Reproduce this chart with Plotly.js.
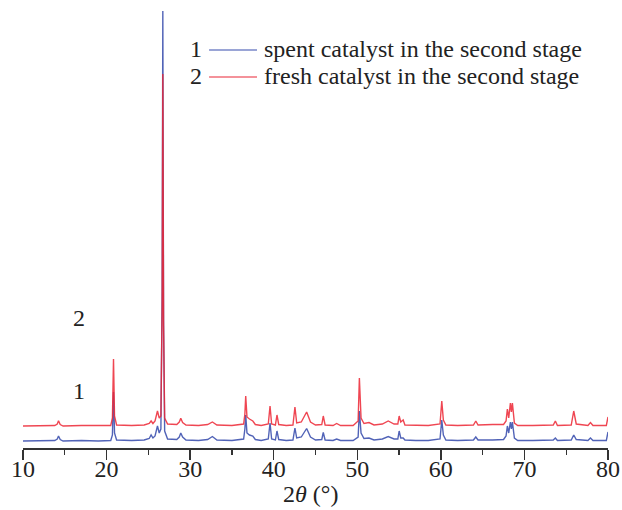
<!DOCTYPE html>
<html>
<head>
<meta charset="utf-8">
<script src="https://cdn.plot.ly/plotly-3.0.1.min.js"></script>
<style>html,body{margin:0;padding:0;background:#fff;}#chart{width:622px;height:510px;}</style>
</head>
<body>
<div id="chart"></div>
<script>
// 2θ positions (degrees)
const twoTheta = [10.0,13.8,14.1,14.25,14.45,14.8,17,19,20.5,20.7,20.83,20.95,21.2,23,24.5,25.1,25.33,25.55,25.8,26.09,26.3,26.5,26.65,26.73,26.82,26.95,27.3,28.4,28.7,28.88,29.1,29.5,31,32.1,32.66,33.2,35,36.4,36.55,36.65,36.8,37.1,37.5,37.8,38.5,39.35,39.56,39.75,40.2,40.39,40.6,41.5,42.3,42.54,42.75,43.3,43.94,44.4,45,45.75,45.93,46.15,47.1,47.53,48,49.5,50.1,50.25,50.45,50.8,51.4,52,53,53.7,54.4,54.85,55.01,55.2,55.49,55.7,57,58.5,59.9,60.11,60.3,60.6,62,63.9,64.18,64.45,66.2,67.5,67.8,67.96,68.12,68.32,68.44,68.56,68.8,69.2,71,73.45,73.7,73.95,75.6,75.9,76.2,77.6,77.9,78.2,79.8,80.0];
// intensity above baseline, curve 1 (spent catalyst)
const spent = [0,0.5,2,5,1.5,0,0.5,0,0.5,6,49,8,1,0.5,1,2.5,6,3,5,15,8,12,150,430,120,10,2,1.5,4,8,4,1,0.5,1.5,4.5,1,0.5,2,12,26,8,6,5,1.5,0.5,2,18,2,1,10,1.5,0.5,1,13,3,4,12.5,4,1,1.5,8.5,1,0.5,2,0.5,0.5,4,30,8,2.5,3,1,2,4.5,2,2,10,3,3,1,0.5,0.5,2,21,6,1,0.5,1,4,1,1,1.5,5,15,8,19,12,19,3,0.5,0.5,1,3,0.5,1,6,1.5,0.5,3,0.5,0.5,9];
// intensity above baseline, curve 2 (fresh catalyst)
const fresh = [0,0.5,2,5.3,1.5,0,0.5,0.5,0.5,8,67,10,1,0.5,1,2.5,5,2.5,5,15,8,10,120,352,100,8,2,1.5,4,7.7,3.5,1,0.5,1.5,4,1,0.5,2,12,30,9,7,5,1.5,0.5,2,20,2,1,11,1.5,0.5,1,19,3,4,14,4,1,1.5,10,1,0.5,2.5,0.5,0.5,5,48,8,2.5,3.5,1,2,5,2,2,10,4,6,1,0.5,0.5,2,25,6,1,0.5,1,5,1,1.5,1.5,5,17,8,23,14,23,3,0.5,0.5,1,5,0.5,1,15,2,0.5,3.5,0.5,0.5,9];
const spentOffset = 7, freshOffset = 22;
const xTicks = [10,20,30,40,50,60,70,80];
const seriesNames = ["spent catalyst in the second stage", "fresh catalyst in the second stage"];
const seriesNums = ["1","2"];

const W=622,H=510,ML=22.7,MR=13.6,MT=10,MB=62;
const PW=W-ML-MR, PH=H-MT-MB;
const px=x=>(x-ML)/PW, py=y=>1-(y-MT)/PH;
const serif = "'Liberation Serif', 'DejaVu Serif', serif";
const FS = 24;
const blue="rgb(62,82,175)", red="rgb(236,38,52)";

const traces = [
  {x: twoTheta, y: spent.map(v=>v+spentOffset), type:'scatter', mode:'lines',
   line:{color:blue,width:1.4}, opacity:0.9, hoverinfo:'skip'},
  {x: twoTheta, y: fresh.map(v=>v+freshOffset), type:'scatter', mode:'lines',
   line:{color:red,width:1.4}, opacity:0.85, hoverinfo:'skip'}
];
const ann = [], shapes = [];
const rowsY=[49,76];
for (let i=0;i<2;i++){
  ann.push({xref:'paper',yref:'paper',x:px(204),y:py(rowsY[i]),xanchor:'right',yanchor:'middle',text:seriesNums[i],showarrow:false,font:{family:serif,size:FS,color:'#222'}});
  ann.push({xref:'paper',yref:'paper',x:px(262),y:py(rowsY[i]),xanchor:'left',yanchor:'middle',text:seriesNames[i],showarrow:false,font:{family:serif,size:FS,color:'#222'}});
  shapes.push({type:'line',xref:'paper',yref:'paper',x0:px(209),x1:px(257),y0:py(rowsY[i]+1),y1:py(rowsY[i]+1),line:{color:i?'rgb(240,110,120)':'rgb(120,135,200)',width:1.5}});
}
ann.push({xref:'paper',yref:'paper',x:px(79),y:py(318),xanchor:'center',yanchor:'middle',text:seriesNums[1],showarrow:false,font:{family:serif,size:FS,color:'#222'}});
ann.push({xref:'paper',yref:'paper',x:px(79),y:py(391),xanchor:'center',yanchor:'middle',text:seriesNums[0],showarrow:false,font:{family:serif,size:FS,color:'#222'}});
ann.push({xref:'paper',yref:'paper',x:px(311),y:py(494),xanchor:'center',yanchor:'middle',text:'2<i>θ</i> (°)',showarrow:false,font:{family:serif,size:FS,color:'#222'}});

const layout = {
  width:W,height:H,margin:{l:ML,r:MR,t:MT,b:MB,pad:0},
  paper_bgcolor:'#fff',plot_bgcolor:'#fff',showlegend:false,
  xaxis:{range:[10,80],tickmode:'array',tickvals:xTicks,ticktext:xTicks.map(String),ticks:'outside',ticklen:10,tickwidth:1.3,tickcolor:'#333',
    ticklabelstandoff:-11,
    showline:true,linecolor:'#333',linewidth:1.5,showgrid:false,zeroline:false,
    tickfont:{family:serif,size:FS,color:'#222'},
    minor:{dtick:5,tick0:10,ticks:'outside',ticklen:5,tickwidth:1.3,tickcolor:'#333',showgrid:false}},
  yaxis:{range:[0,PH],visible:false,showgrid:false,zeroline:false},
  annotations:ann,shapes:shapes
};
Plotly.newPlot('chart',traces,layout,{displayModeBar:false,staticPlot:true});
</script>
</body>
</html>
